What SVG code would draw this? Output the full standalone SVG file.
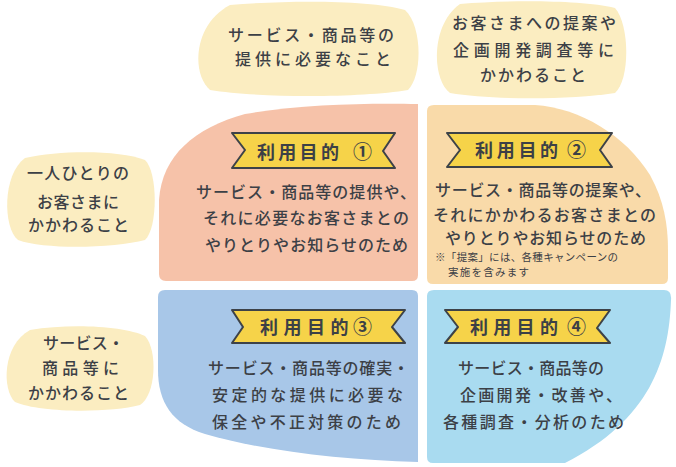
<svg xmlns="http://www.w3.org/2000/svg" width="676" height="467" viewBox="0 0 676 467">
<style>
text{font-family:"Noto Sans CJK JP","Noto Sans",sans-serif;fill:#3c4046;font-weight:500}
.b{font-size:16px}
.s{font-size:10.5px;font-weight:400}
.h{font-size:18px;font-weight:700}
.c{font-size:19px;font-weight:700}
.blob{fill:#fbedc1}
.ban{fill:#f6d349;stroke:#3d4248;stroke-width:2;stroke-linejoin:round}
</style>
<rect width="676" height="467" fill="#ffffff"/>
<g id="topblob1">
<path class="blob" d="M230 5C290 0 370 0 405 10C422 25 423 75 408 90C360 98 260 98 210 90C192 75 192 25 230 5Z"/>
<text class="b" x="228" y="41" textLength="166" lengthAdjust="spacing">サービス・商品等の</text>
<text class="b" x="235" y="65" textLength="156" lengthAdjust="spacing">提供に必要なこと</text>
</g>
<g id="topblob2">
<path class="blob" d="M460 4C510 0 580 0 615 8C630 25 630 80 615 93C570 100 490 100 450 93C432 80 430 25 460 4Z"/>
<text class="b" x="452" y="29" textLength="164" lengthAdjust="spacing">お客さまへの提案や</text>
<text class="b" x="453" y="56" textLength="161" lengthAdjust="spacing">企画開発調査等に</text>
<text class="b" x="480" y="81" textLength="106" lengthAdjust="spacing">かかわること</text>
</g>
<g id="leftblob1">
<path class="blob" d="M25 158C60 150 120 150 145 160C158 172 158 228 145 240C115 248 45 250 18 240C3 228 2 175 25 158Z"/>
<text class="b" x="27" y="179" textLength="102" lengthAdjust="spacing">一人ひとりの</text>
<text class="b" x="37" y="208" textLength="82" lengthAdjust="spacing">お客さまに</text>
<text class="b" x="28" y="231" textLength="101" lengthAdjust="spacing">かかわること</text>
</g>
<g id="leftblob2">
<path class="blob" d="M30 330C70 323 125 326 145 336C158 350 156 395 140 405C110 413 40 413 15 402C2 390 2 345 30 330Z"/>
<text class="b" x="43" y="349" textLength="81" lengthAdjust="spacing">サービス・</text>
<text class="b" x="42" y="374" textLength="77" lengthAdjust="spacing">商品等に</text>
<text class="b" x="28" y="399" textLength="101" lengthAdjust="spacing">かかわること</text>
</g>
<g id="q1">
<path fill="#f6c2a9" d="M166 281Q159 281 159 274L159 200C162 155 195 128 245 114C300 104 370 103 418 104L418 275Q418 281 412 281Z"/>
<polygon class="ban" points="232,133 395,133 383,151 395,168 232,168 245,150"/>
<text class="h" x="257" y="159"><tspan letter-spacing="3.3">利用目的</tspan><tspan class="c" x="353">①</tspan></text>
<text class="b" x="196" y="198" textLength="220" lengthAdjust="spacing">サービス・商品等の提供や、</text>
<text class="b" x="203" y="224" textLength="206" lengthAdjust="spacing">それに必要なお客さまとの</text>
<text class="b" x="205" y="251" textLength="203" lengthAdjust="spacing">やりとりやお知らせのため</text>
</g>
<g id="q2">
<path fill="#f9daa9" d="M427 111Q427 105 434 105L535 105C580 108 625 135 650 175C664 200 668 225 668 250L668 278Q668 284 662 284L433 284Q427 284 427 278Z"/>
<polygon class="ban" points="447,133 612,133 600,150 612,167 447,167 460,150"/>
<text class="h" x="475" y="157"><tspan letter-spacing="3.7">利用目的</tspan><tspan class="c" x="567">②</tspan></text>
<text class="b" x="435" y="196" textLength="216" lengthAdjust="spacing">サービス・商品等の提案や、</text>
<text class="b" x="433" y="221" textLength="223" lengthAdjust="spacing">それにかかわるお客さまとの</text>
<text class="b" x="445" y="244" textLength="201" lengthAdjust="spacing">やりとりやお知らせのため</text>
<text class="s" x="435" y="261" textLength="183" lengthAdjust="spacing">※「提案」には、各種キャンペーンの</text>
<text class="s" x="448" y="276" textLength="81" lengthAdjust="spacing">実施を含みます</text>
</g>
<g id="q3">
<path fill="#a8c7e8" d="M165 290L412 290Q418 290 418 296L418 462C340 460 260 450 205 434C172 424 158 402 158 370L158 297Q158 290 165 290Z"/>
<polygon class="ban" points="232,310 405,310 392,327 405,343 232,343 243,327"/>
<text class="h" x="260" y="334"><tspan letter-spacing="5.5">利用目的</tspan><tspan class="c" x="353">③</tspan></text>
<text class="b" x="208" y="374" textLength="201" lengthAdjust="spacing">サービス・商品等の確実・</text>
<text class="b" x="212" y="401" textLength="191" lengthAdjust="spacing">安定的な提供に必要な</text>
<text class="b" x="212" y="428" textLength="189" lengthAdjust="spacing">保全や不正対策のため</text>
</g>
<g id="q4">
<path fill="#a9dbf0" d="M434 290L664 290Q672 290 671 300C669 360 650 420 565 463L433 463Q427 463 427 457L427 296Q427 290 434 290Z"/>
<polygon class="ban" points="445,310 610,310 597,328 610,343 445,343 458,327"/>
<text class="h" x="470" y="334"><tspan letter-spacing="5.3">利用目的</tspan><tspan class="c" x="567">④</tspan></text>
<text class="b" x="458" y="374" textLength="146" lengthAdjust="spacing">サービス・商品等の</text>
<text class="b" x="460" y="401" textLength="162" lengthAdjust="spacing">企画開発・改善や、</text>
<text class="b" x="443" y="428" textLength="181" lengthAdjust="spacing">各種調査・分析のため</text>
</g>
<g id="connectors"></g>
</svg>
